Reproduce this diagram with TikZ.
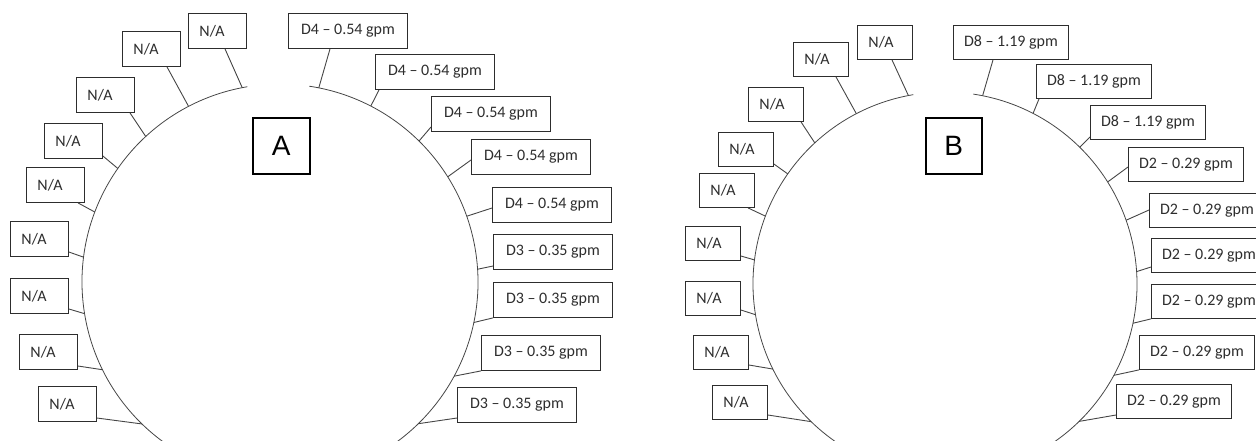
\documentclass[tikz,border=0pt]{standalone}
\usepackage{fontspec}
\setmainfont{Carlito}
\newfontfamily\letterfont{Liberation Sans}
\definecolor{ink}{RGB}{45,45,45}
\definecolor{wire}{RGB}{70,70,70}
\begin{document}
\begin{tikzpicture}[x=1pt,y=-1pt,
  tag/.style={draw=ink, line width=0.9pt, anchor=north west, inner ysep=0pt,
    text=ink, font=\fontsize{16}{19}\selectfont},
  natag/.style={tag, minimum height=35pt, text width=36pt, inner xsep=11pt, align=left},
  dtag/.style={tag, minimum height=35pt, minimum width=119pt, inner xsep=0pt},
  bnatag/.style={tag, minimum height=34pt, text width=33pt, inner xsep=11pt, align=left},
  bdtag/.style={tag, minimum height=34pt, minimum width=115pt, inner xsep=0pt},
  letterbox/.style={draw=black, line width=1.6pt, anchor=north west, minimum width=57pt,
    minimum height=56pt, inner sep=0pt, font=\letterfont\fontsize{28}{30}\selectfont},
  rim/.style={draw=wire, line width=0.8pt},
  lead/.style={draw=wire, line width=0.9pt}]
\path[use as bounding box] (0,0) rectangle (1256,440);
\clip (0,0) rectangle (1256,440);

% centres of the two rings
\coordinate (cA) at (280,282);
\coordinate (cB) at (945,284);

% open rings, gap at the top
\draw[rim] ([shift={(99.5:198pt)}]cA) arc[start angle=99.5, end angle=441.5, radius=198pt];
\draw[rim] ([shift={(99.5:192pt)}]cB) arc[start angle=99.5, end angle=441.5, radius=192pt];

% tap points on the rings
\foreach \a [count=\i] in {101,117.5,132.7,145,159.3,172.8,189.2,206.3,225.8}{
  \coordinate (Al\i) at ([shift={(\a:198pt)}]cA);
  \coordinate (Bl\i) at ([shift={(\a:192pt)}]cB);
}
\foreach \a [count=\i] in {78.7,62.7,45.4,32.1,19.4,3.7,-11.8,-28.4,-45.7}{
  \coordinate (Ar\i) at ([shift={(\a:198pt)}]cA);
  \coordinate (Br\i) at ([shift={(\a:192pt)}]cB);
}

% ---------- ring A ----------
\node[letterbox] (labA) at (252,117) {A};

\node[natag] (Anl1) at (188,13) {N/A};
\node[natag] (Anl2) at (122,31) {N/A};
\node[natag] (Anl3) at (76,77) {N/A};
\node[natag] (Anl4) at (44,123) {N/A};
\node[natag] (Anl5) at (26,167) {N/A};
\node[natag] (Anl6) at (10,221) {N/A};
\node[natag] (Anl7) at (10,278) {N/A};
\node[natag] (Anl8) at (19,334) {N/A};
\node[natag] (Anl9) at (38,386) {N/A};

\draw[lead] ([xshift=37pt]Anl1.south west) -- (Al1);
\draw[lead] ([xshift=45pt]Anl2.south west) -- (Al2);
\draw[lead] ([xshift=54pt]Anl3.south west) -- (Al3);
\draw[lead] ([yshift=-33pt]Anl4.north east) -- (Al4);
\draw[lead] ([xshift=52pt]Anl5.south west) -- (Al5);
\draw[lead] ([yshift=-31pt]Anl6.north east) -- (Al6);
\draw[lead] ([yshift=-31pt]Anl7.north east) -- (Al7);
\draw[lead] ([yshift=-32pt]Anl8.north east) -- (Al8);
\draw[lead] ([yshift=-32pt]Anl9.north east) -- (Al9);

\node[dtag] (Adr1) at (288,13) {D4 – 0.54 gpm};
\node[dtag] (Adr2) at (375,54) {D4 – 0.54 gpm};
\node[dtag] (Adr3) at (431,96) {D4 – 0.54 gpm};
\node[dtag] (Adr4) at (471,139) {D4 – 0.54 gpm};
\node[dtag] (Adr5) at (492,187) {D4 – 0.54 gpm};
\node[dtag] (Adr6) at (493,234) {D3 – 0.35 gpm};
\node[dtag] (Adr7) at (493,282) {D3 – 0.35 gpm};
\node[dtag] (Adr8) at (481,335) {D3 – 0.35 gpm};
\node[dtag] (Adr9) at (457,387) {D3 – 0.35 gpm};

\draw[lead] ([xshift=42pt]Adr1.south west) -- (Ar1);
\draw[lead] ([xshift=4pt]Adr2.south west) -- (Ar2);
\draw[lead] ([yshift=-31pt]Adr3.north west) -- (Ar3);
\draw[lead] ([yshift=-21pt]Adr4.north west) -- (Ar4);
\draw[lead] ([yshift=-21pt]Adr5.north west) -- (Ar5);
\draw[lead] ([yshift=-32pt]Adr6.north west) -- (Ar6);
\draw[lead] (Adr7.south west) -- (Ar7);
\draw[lead] (Adr8.south west) -- (Ar8);
\draw[lead] ([yshift=-31pt]Adr9.north west) -- (Ar9);

% ---------- ring B ----------
\node[letterbox, minimum width=56pt] (labB) at (925,117) {B};

\node[bnatag] (Bnl1) at (857,25) {N/A};
\node[bnatag] (Bnl2) at (793,42) {N/A};
\node[bnatag] (Bnl3) at (748,87) {N/A};
\node[bnatag] (Bnl4) at (718,132) {N/A};
\node[bnatag] (Bnl5) at (699,173) {N/A};
\node[bnatag] (Bnl6) at (685,226) {N/A};
\node[bnatag] (Bnl7) at (685,281) {N/A};
\node[bnatag] (Bnl8) at (693,335) {N/A};
\node[bnatag] (Bnl9) at (712,385) {N/A};

\draw[lead] ([xshift=35pt]Bnl1.south west) -- (Bl1);
\draw[lead] ([xshift=43pt]Bnl2.south west) -- (Bl2);
\draw[lead] ([xshift=53pt]Bnl3.south west) -- (Bl3);
\draw[lead] ([yshift=-32pt]Bnl4.north east) -- (Bl4);
\draw[lead] ([xshift=49pt]Bnl5.south west) -- (Bl5);
\draw[lead] ([yshift=-30pt]Bnl6.north east) -- (Bl6);
\draw[lead] ([yshift=-29pt]Bnl7.north east) -- (Bl7);
\draw[lead] ([yshift=-30pt]Bnl8.north east) -- (Bl8);
\draw[lead] ([yshift=-30pt]Bnl9.north east) -- (Bl9);

\node[bdtag] (Bdr1) at (953,25) {D8 – 1.19 gpm};
\node[bdtag] (Bdr2) at (1036,64) {D8 – 1.19 gpm};
\node[bdtag] (Bdr3) at (1090,105) {D8 – 1.19 gpm};
\node[bdtag] (Bdr4) at (1128,147) {D2 – 0.29 gpm};
\node[bdtag] (Bdr5) at (1149,193) {D2 – 0.29 gpm};
\node[bdtag] (Bdr6) at (1151,238) {D2 – 0.29 gpm};
\node[bdtag] (Bdr7) at (1151,284) {D2 – 0.29 gpm};
\node[bdtag] (Bdr8) at (1139,335) {D2 – 0.29 gpm};
\node[bdtag] (Bdr9) at (1116,384) {D2 – 0.29 gpm};

\draw[lead] ([xshift=40pt]Bdr1.south west) -- (Br1);
\draw[lead] ([xshift=3pt]Bdr2.south west) -- (Br2);
\draw[lead] ([yshift=-32pt]Bdr3.north west) -- (Br3);
\draw[lead] ([yshift=-20pt]Bdr4.north west) -- (Br4);
\draw[lead] ([yshift=-17pt]Bdr5.north west) -- (Br5);
\draw[lead] ([yshift=-29pt]Bdr6.north west) -- (Br6);
\draw[lead] (Bdr7.south west) -- (Br7);
\draw[lead] (Bdr8.south west) -- (Br8);
\draw[lead] ([yshift=-31pt]Bdr9.north west) -- (Br9);
\end{tikzpicture}
\end{document}
